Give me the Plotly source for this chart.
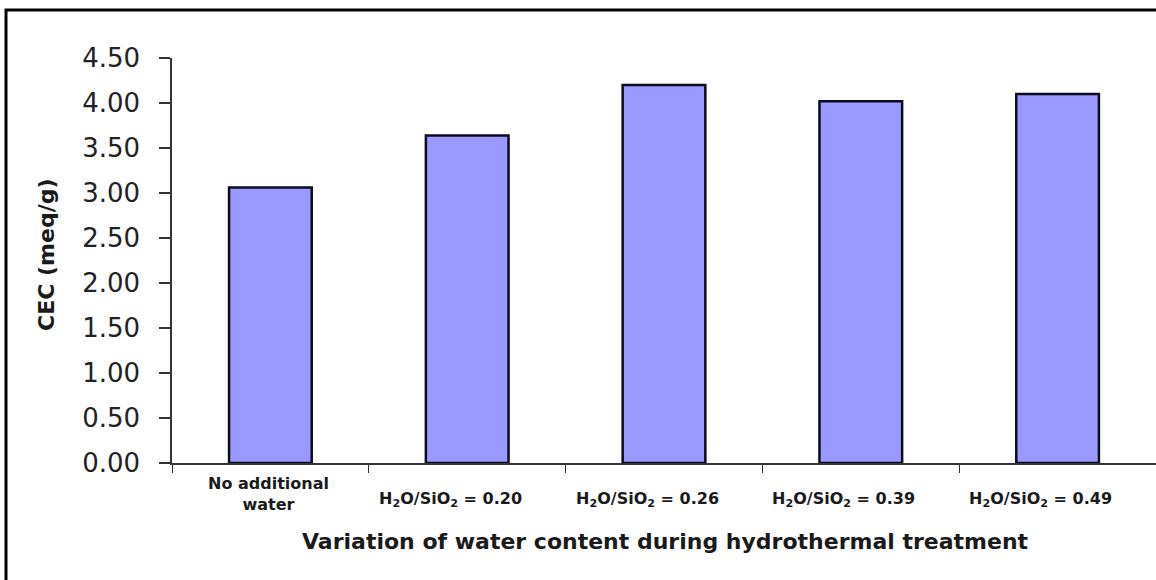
import plotly.graph_objects as go

# Cation exchange capacity for each water content setting
categories = [
    "No additional<br>water",
    "H<sub>2</sub>O/SiO<sub>2</sub> = 0.20",
    "H<sub>2</sub>O/SiO<sub>2</sub> = 0.26",
    "H<sub>2</sub>O/SiO<sub>2</sub> = 0.39",
    "H<sub>2</sub>O/SiO<sub>2</sub> = 0.49",
]
cec_values = [3.06, 3.64, 4.20, 4.02, 4.10]
y_ticks = [0.0, 0.5, 1.0, 1.5, 2.0, 2.5, 3.0, 3.5, 4.0, 4.5]
y_tick_text = [f"{v:.2f}" for v in y_ticks]

W, H = 1156, 580
ML, MR, MT, MB = 172, 0, 58, 117
PW, PH = W - ML - MR, H - MT - MB

BOLD_FONT = "DejaVu Sans, sans-serif"


def px_to_paper_x(px):
    return (px - ML) / PW


def px_to_paper_y(py):
    return (H - MB - py) / PH


fig = go.Figure()
fig.add_trace(
    go.Bar(
        x=list(range(len(categories))),
        y=cec_values,
        width=0.42,
        marker=dict(color="#9999FF", line=dict(color="#0b0b20", width=2.5)),
        hoverinfo="y",
    )
)

# Category labels under the x axis
annotations = []
for i, label in enumerate(categories):
    multi = "<br>" in label
    annotations.append(
        dict(
            x=i,
            y=0,
            xref="x",
            yref="y",
            text=f"<b>{label}</b>",
            showarrow=False,
            xanchor="center",
            yanchor="middle",
            yshift=-31 if multi else -36,
            xshift=-2 if multi else -17,
            font=dict(family=BOLD_FONT, size=16, color="#1a1a1a"),
        )
    )

annotations.append(
    dict(
        x=px_to_paper_x(665),
        y=px_to_paper_y(541),
        xref="paper",
        yref="paper",
        text="<b>Variation of water content during hydrothermal treatment</b>",
        showarrow=False,
        xanchor="center",
        yanchor="middle",
        font=dict(family=BOLD_FONT, size=22, color="#1a1a1a"),
    )
)
annotations.append(
    dict(
        x=px_to_paper_x(47),
        y=px_to_paper_y(255),
        xref="paper",
        yref="paper",
        text="<b>CEC (meq/g)</b>",
        textangle=-90,
        showarrow=False,
        xanchor="center",
        yanchor="middle",
        font=dict(family=BOLD_FONT, size=22, color="#1a1a1a"),
    )
)

# Outer frame (left and top edges visible, right and bottom run off the page)
shapes = [
    dict(
        type="rect",
        xref="paper",
        yref="paper",
        x0=px_to_paper_x(6),
        y0=px_to_paper_y(620),
        x1=px_to_paper_x(1200),
        y1=px_to_paper_y(10),
        line=dict(color="#000000", width=3),
        fillcolor="rgba(0,0,0,0)",
        layer="above",
    )
]

fig.update_layout(
    width=W,
    height=H,
    margin=dict(l=ML, r=MR, t=MT, b=MB, pad=0),
    paper_bgcolor="white",
    plot_bgcolor="white",
    showlegend=False,
    annotations=annotations,
    shapes=shapes,
    xaxis=dict(
        range=[-0.5, len(categories) - 0.5],
        tickmode="array",
        tickvals=[i - 0.5 for i in range(len(categories) + 1)],
        ticktext=[""] * (len(categories) + 1),
        ticks="outside",
        ticklen=8,
        tickwidth=1.2,
        tickcolor="#333333",
        showline=True,
        linecolor="#333333",
        linewidth=1.5,
        showgrid=False,
        zeroline=False,
        fixedrange=True,
    ),
    yaxis=dict(
        range=[0, 4.5],
        tickmode="array",
        tickvals=y_ticks,
        ticktext=y_tick_text,
        ticks="outside",
        ticklen=11,
        tickwidth=1.5,
        tickcolor="#333333",
        ticklabelstandoff=14,
        showline=True,
        linecolor="#333333",
        linewidth=1.5,
        showgrid=False,
        zeroline=False,
        tickfont=dict(family="DejaVu Sans, sans-serif", size=26, color="#222222"),
        fixedrange=True,
    ),
)

fig.write_html("out.html")
